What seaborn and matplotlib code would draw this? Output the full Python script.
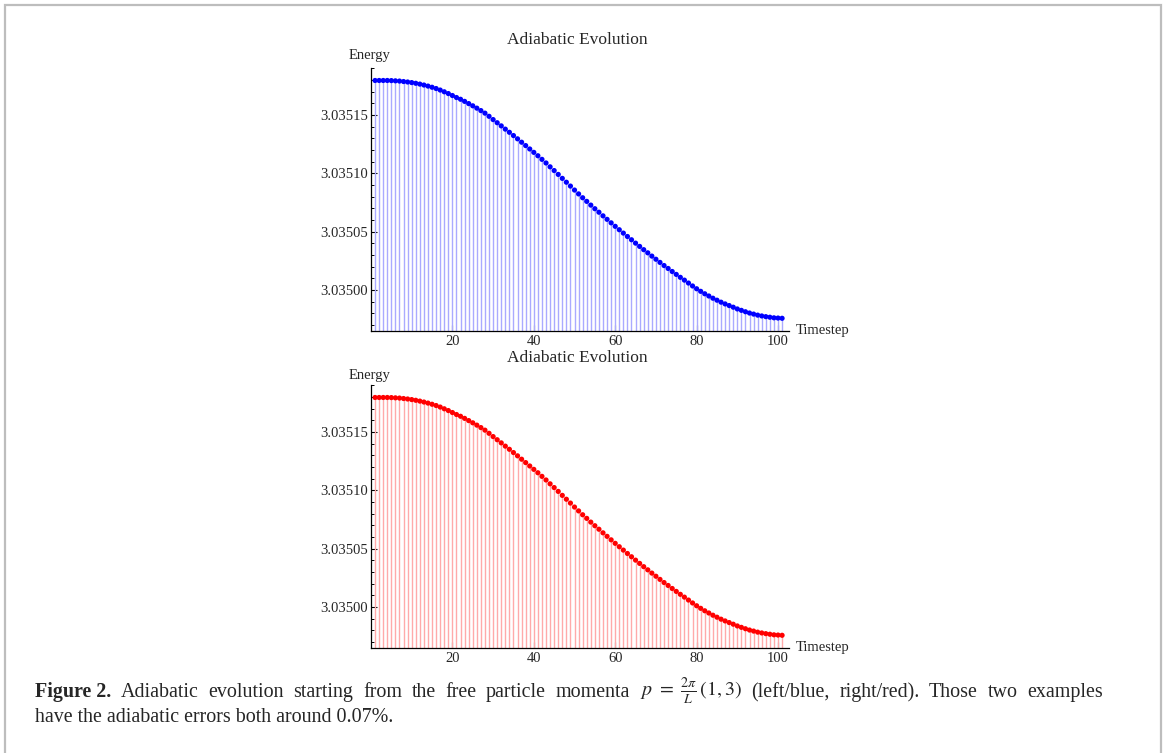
import numpy as np
import pandas as pd
import matplotlib
matplotlib.use("Agg")
import matplotlib.pyplot as plt
import matplotlib.ticker as mticker
from matplotlib.patches import Rectangle
import seaborn as sns

# ---------------- data ----------------
timestep = list(range(1, 102))

blue_energy = [
    3.0351797, 3.0351797, 3.0351797, 3.0351797, 3.0351796, 3.0351794, 3.0351792, 3.0351788, 3.0351784, 3.0351779,
    3.0351773, 3.0351766, 3.0351758, 3.0351749, 3.0351739, 3.0351728, 3.0351715, 3.0351700, 3.0351685, 3.0351668,
    3.0351651, 3.0351636, 3.0351618, 3.0351599, 3.0351580, 3.0351560, 3.0351539, 3.0351517, 3.0351490, 3.0351462,
    3.0351435, 3.0351408, 3.0351380, 3.0351353, 3.0351325, 3.0351297, 3.0351268, 3.0351239, 3.0351210, 3.0351181,
    3.0351152, 3.0351121, 3.0351090, 3.0351057, 3.0351025, 3.0350992, 3.0350958, 3.0350925, 3.0350892, 3.0350858,
    3.0350825, 3.0350792, 3.0350761, 3.0350729, 3.0350698, 3.0350668, 3.0350637, 3.0350607, 3.0350577, 3.0350547,
    3.0350518, 3.0350489, 3.0350460, 3.0350432, 3.0350403, 3.0350375, 3.0350347, 3.0350320, 3.0350292, 3.0350265,
    3.0350238, 3.0350211, 3.0350186, 3.0350160, 3.0350135, 3.0350110, 3.0350086, 3.0350061, 3.0350036, 3.0350012,
    3.0349990, 3.0349969, 3.0349950, 3.0349931, 3.0349914, 3.0349897, 3.0349882, 3.0349868, 3.0349854, 3.0349839,
    3.0349827, 3.0349815, 3.0349804, 3.0349795, 3.0349786, 3.0349779, 3.0349773, 3.0349768, 3.0349763, 3.0349761,
    3.0349759,
]

red_energy = [
    3.0351797, 3.0351797, 3.0351797, 3.0351797, 3.0351796, 3.0351794, 3.0351792, 3.0351788, 3.0351784, 3.0351779,
    3.0351773, 3.0351766, 3.0351758, 3.0351749, 3.0351739, 3.0351728, 3.0351715, 3.0351700, 3.0351685, 3.0351668,
    3.0351651, 3.0351636, 3.0351618, 3.0351599, 3.0351580, 3.0351560, 3.0351539, 3.0351517, 3.0351490, 3.0351462,
    3.0351435, 3.0351408, 3.0351380, 3.0351353, 3.0351325, 3.0351297, 3.0351268, 3.0351239, 3.0351210, 3.0351181,
    3.0351152, 3.0351121, 3.0351090, 3.0351057, 3.0351025, 3.0350992, 3.0350958, 3.0350925, 3.0350892, 3.0350858,
    3.0350825, 3.0350792, 3.0350761, 3.0350729, 3.0350698, 3.0350668, 3.0350637, 3.0350607, 3.0350577, 3.0350547,
    3.0350518, 3.0350489, 3.0350460, 3.0350432, 3.0350403, 3.0350375, 3.0350347, 3.0350320, 3.0350292, 3.0350265,
    3.0350238, 3.0350211, 3.0350186, 3.0350160, 3.0350135, 3.0350110, 3.0350086, 3.0350061, 3.0350036, 3.0350012,
    3.0349990, 3.0349969, 3.0349950, 3.0349931, 3.0349914, 3.0349897, 3.0349882, 3.0349868, 3.0349854, 3.0349839,
    3.0349827, 3.0349815, 3.0349804, 3.0349795, 3.0349786, 3.0349779, 3.0349773, 3.0349768, 3.0349763, 3.0349761,
    3.0349759,
]

x_ticks = [20, 40, 60, 80, 100]
y_ticks = [3.03500, 3.03505, 3.03510, 3.03515]
title_text = "Adiabatic Evolution"
y_label = "Energy"
x_label = "Timestep"
caption_lead = "Figure 2."
caption_line1_words = ["Adiabatic", "evolution", "starting", "from", "the", "free", "particle", "momenta",
                       r"$p\ =\ \frac{2\pi}{L}\,(1,3)$", "(left/blue,", "right/red).", "Those", "two", "examples"]
caption_line2 = "have the adiabatic errors both around 0.07%."

# ---------------- style ----------------
sns.set_style("ticks")
plt.rcParams["font.family"] = ["Liberation Serif", "DejaVu Serif"]
plt.rcParams["mathtext.fontset"] = "stix"

W, H = 1168, 753
fig = plt.figure(figsize=(W / 100, H / 100), dpi=100)
fig.patch.set_facecolor("white")


def fx(px):
    return px / W


def fy(py):
    return 1 - py / H


Y_LO, Y_HI = 3.034965, 3.0351904
X_LO, X_HI = 0.0, 102.7


def draw_panel(ax_top_px, ax_bottom_px, energy, dot_color, stem_color):
    ax = fig.add_axes([fx(371), fy(ax_bottom_px), fx(789) - fx(371), (ax_bottom_px - ax_top_px) / H])
    df = pd.DataFrame({"Timestep": timestep, "Energy": energy})
    ax.vlines(df["Timestep"], Y_LO, df["Energy"], color=stem_color, linewidth=1.0, zorder=1)
    sns.scatterplot(data=df, x="Timestep", y="Energy", ax=ax, color=dot_color, s=14,
                    edgecolor="none", linewidth=0, legend=False, zorder=3)
    ax.set_xlim(X_LO, X_HI)
    ax.set_ylim(Y_LO, Y_HI)
    ax.set_xlabel("")
    ax.set_ylabel("")
    for s in ["top", "right"]:
        ax.spines[s].set_visible(False)
    for s in ["left", "bottom"]:
        ax.spines[s].set_color("black")
        ax.spines[s].set_linewidth(0.9)
    ax.xaxis.set_major_locator(mticker.FixedLocator(x_ticks))
    ax.xaxis.set_minor_locator(mticker.MultipleLocator(5))
    ax.yaxis.set_major_locator(mticker.FixedLocator(y_ticks))
    ax.yaxis.set_minor_locator(mticker.MultipleLocator(0.00001))
    ax.yaxis.set_major_formatter(mticker.FormatStrFormatter("%.5f"))
    ax.xaxis.set_major_formatter(mticker.FormatStrFormatter("%d"))
    ax.tick_params(which="major", direction="in", length=4, width=0.8, labelsize=10.5, pad=2, color="black")
    ax.tick_params(which="minor", direction="in", length=2.5, width=0.7, color="black")
    ax.tick_params(axis="x", which="major", pad=3)
    ax.set_facecolor("white")
    return ax


ax1 = draw_panel(68, 331, blue_energy, "#0000ff", "#aaaaff")
ax2 = draw_panel(385, 648, red_energy, "#ff0000", "#ffaaaa")

# titles and axis labels
fig.text(fx(577), fy(40), title_text, ha="center", va="center", fontsize=12.5)
fig.text(fx(370), fy(56), y_label, ha="center", va="center", fontsize=10.5)
fig.text(fx(796), fy(330), x_label, ha="left", va="center", fontsize=10.5)

fig.text(fx(577), fy(358), title_text, ha="center", va="center", fontsize=12.5)
fig.text(fx(370), fy(375), y_label, ha="center", va="center", fontsize=10.5)
fig.text(fx(796), fy(648), x_label, ha="left", va="center", fontsize=10.5)

# caption: first line justified between x=35 and x=1103 px
CAP_FS = 14.4
texts = [fig.text(0, fy(697), caption_lead, ha="left", va="baseline", fontsize=CAP_FS,
                  fontweight="bold")]
for w in caption_line1_words:
    texts.append(fig.text(0, fy(697), w, ha="left", va="baseline", fontsize=CAP_FS))
fig.canvas.draw()
renderer = fig.canvas.get_renderer()
widths = [t.get_window_extent(renderer).width for t in texts]
left_px, right_px = 35.0, 1103.0
gap = (right_px - left_px - sum(widths)) / (len(texts) - 1)
xpos = left_px
for t, wdt in zip(texts, widths):
    t.set_x(xpos / W)
    xpos += wdt + gap

fig.text(fx(35), fy(722), caption_line2, ha="left", va="baseline", fontsize=CAP_FS)

# outer frame
fig.patches.append(Rectangle((fx(5), fy(765)), fx(1161) - fx(5), fy(5) - fy(765),
                             transform=fig.transFigure, fill=False, edgecolor="#bdbdbd",
                             linewidth=1.6, clip_on=False))

fig.savefig("out.png", dpi=100)
